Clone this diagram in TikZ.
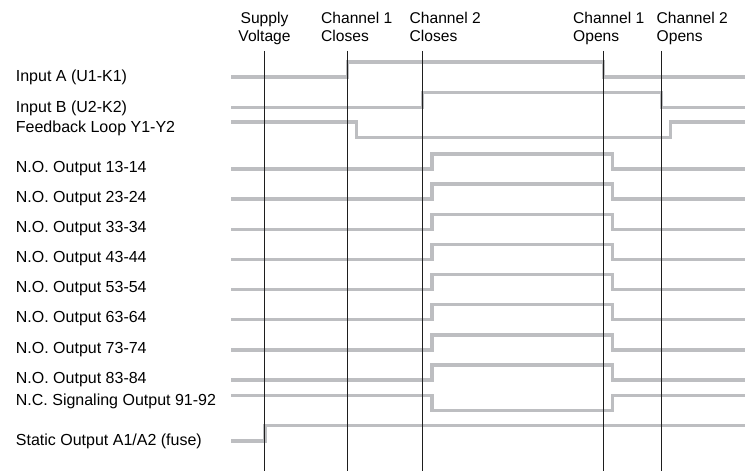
\documentclass[tikz,border=0pt]{standalone}
\usepackage{fontspec}
\setmainfont{Liberation Sans}
\definecolor{sig}{RGB}{189,190,193}
\definecolor{mark}{RGB}{30,30,30}
\begin{document}
\begin{tikzpicture}[x=1bp,y=-1bp,
  signal/.style={draw=sig, line width=3.4bp},
  marker/.style={draw=mark, line width=0.9bp},
  lbl/.style={anchor=base west, inner sep=0, font=\fontsize{16bp}{18bp}\selectfont},
  hdr/.style={anchor=north west, inner sep=0, align=left, font=\fontsize{15.6bp}{18bp}\selectfont},
  hdrc/.style={anchor=north, inner sep=0, align=center, font=\fontsize{15.6bp}{18bp}\selectfont}]
\useasboundingbox (0,0) rectangle (745,473);

% header labels
\node[hdrc] (hsup) at (264.5,12.5) {Supply\\Voltage};
\node[hdr] (hc1c) at (321,12.5) {Channel 1\\Closes};
\node[hdr] (hc2c) at (409.5,12.5) {Channel 2\\Closes};
\node[hdr] (hc1o) at (573,12.5) {Channel 1\\Opens};
\node[hdr] (hc2o) at (656.5,12.5) {Channel 2\\Opens};

% row labels
\node[lbl] (la) at (15.7,82) {Input A (U1-K1)};
\node[lbl] (lb) at (15.7,112.5) {Input B (U2-K2)};
\node[lbl] (lf) at (15.7,133) {Feedback Loop Y1-Y2};
\foreach \n [count=\k from 0] in {13-14,23-24,33-34,43-44,53-54,63-64,73-74,83-84}{
  \node[lbl] (lno\k) at (15.7,{172.2+30.15*\k}) {N.O. Output \n};
}
\node[lbl] (lnc) at (15.7,405) {N.C. Signaling Output 91-92};
\node[lbl] (lst) at (15.7,445.5) {Static Output A1/A2 (fuse)};

% signals
\draw[signal] (231,77) -- (347.7,77) -- (347.7,62) -- (603.3,62) -- (603.3,77) -- (745,77);
\draw[signal] (231,107.5) -- (422.7,107.5) -- (422.7,92.5) -- (661.3,92.5) -- (661.3,107.5) -- (745,107.5);
\draw[signal] (231,122) -- (356.5,122) -- (356.5,137.5) -- (670.5,137.5) -- (670.5,122) -- (745,122);
\foreach \k in {0,...,7}{
  \pgfmathsetmacro{\yl}{169+30.15*\k}
  \pgfmathsetmacro{\yh}{\yl-15}
  \draw[signal] (231,\yl) -- (432,\yl) -- (432,\yh) -- (612.5,\yh) -- (612.5,\yl) -- (745,\yl);
}
\draw[signal] (231,395.7) -- (432,395.7) -- (432,410.7) -- (612.5,410.7) -- (612.5,395.7) -- (745,395.7);
\draw[signal] (231,441) -- (265,441) -- (265,425.7) -- (745,425.7);

% event markers
\foreach \x in {264.5,347.7,422.7,603.3,661.3}{
  \draw[marker] (\x,51) -- (\x,471);
}
\end{tikzpicture}
\end{document}
